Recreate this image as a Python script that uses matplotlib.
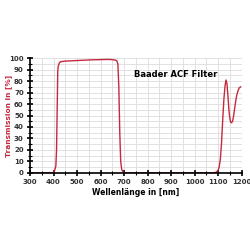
import numpy as np
import matplotlib.pyplot as plt
from matplotlib.ticker import MultipleLocator

# Transmission curve points
wavelength = [300, 350, 395, 400, 405, 410, 413, 416, 418, 420, 422, 425, 430, 450, 480,
              500, 530, 560, 600, 630, 650, 665, 670, 674, 678, 682, 686, 690, 695, 700,
              750, 800, 900, 1000, 1080, 1090, 1095, 1100, 1105, 1110, 1115, 1120, 1125,
              1130, 1134, 1138, 1142, 1146, 1150, 1154, 1158, 1162, 1166, 1170, 1175,
              1180, 1185, 1190, 1196]
transmission = [0, 0, 0, 0.5, 2, 6, 20, 60, 88, 93, 94, 96, 97, 97.5, 97.8,
                98, 98.3, 98.6, 98.8, 99, 98.8, 98.3, 97.5, 95, 75, 35, 10, 3, 1, 0,
                0, 0, 0, 0, 0, 0.3, 1, 2, 5, 12, 26, 46, 64,
                76, 81, 78, 68, 56, 48, 44, 43.7, 45, 49, 55, 62,
                68, 71.5, 74, 75]

x_ticks = list(range(300, 1201, 100))
y_ticks = list(range(0, 101, 10))

fig = plt.figure(figsize=(2.5, 2.5), dpi=100)
ax = fig.add_axes([0.12, 0.309, 0.846, 0.458])

ax.plot(wavelength, transmission, color='#c42a3e', lw=1.0, zorder=3)

ax.set_xlim(300, 1200)
ax.set_ylim(0, 100)
ax.set_xticks(x_ticks)
ax.set_yticks(y_ticks)
ax.xaxis.set_minor_locator(MultipleLocator(50))
ax.yaxis.set_minor_locator(MultipleLocator(5))
ax.grid(which='both', color='#dddddd', lw=0.6)
ax.set_axisbelow(True)

for s in ['top', 'right']:
    ax.spines[s].set_visible(False)
for s in ['left', 'bottom']:
    ax.spines[s].set_linewidth(1.2)
    ax.spines[s].set_zorder(4)

ax.tick_params(which='major', direction='inout', length=5, width=1.2, labelsize=5, pad=2)
ax.tick_params(which='minor', direction='inout', length=2.5, width=0.8)
for lab in ax.get_xticklabels() + ax.get_yticklabels():
    lab.set_fontweight('bold')
    lab.set_color('#333333')

ax.set_xlabel('Wellenlänge in [nm]', fontsize=5.5, fontweight='bold', labelpad=2)
ax.set_ylabel('Transmission in [%]', fontsize=5.3, fontweight='bold', color='#c42a3e')
ax.yaxis.set_label_coords(-0.085, 0.5)
ax.text(920, 86, 'Baader ACF Filter', fontsize=6, fontweight='bold', ha='center', va='center')

fig.savefig('out.png', dpi=100)
